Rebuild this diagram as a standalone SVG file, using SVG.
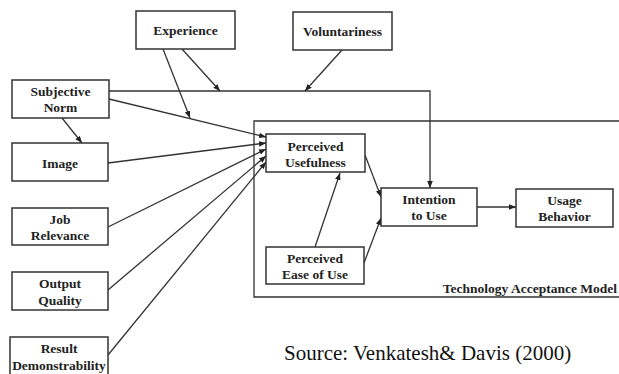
<svg xmlns="http://www.w3.org/2000/svg" width="619" height="374" viewBox="0 0 619 374">
<defs>
<marker id="ah" viewBox="0 0 10 10" refX="10" refY="5" markerWidth="7" markerHeight="7" orient="auto" markerUnits="userSpaceOnUse">
<path d="M0,1 L10,5 L0,9 z" fill="#222"/>
</marker>
<style>
.box{fill:#fff;stroke:#333;stroke-width:1.5}
.lbl{font-family:'Liberation Serif','Times New Roman',Tinos,'DejaVu Serif',serif;font-weight:bold;font-size:13.5px;fill:#222;text-anchor:middle}
.ln{fill:none;stroke:#333;stroke-width:1.3}
.arr{fill:none;stroke:#333;stroke-width:1.3;marker-end:url(#ah)}
.src{font-family:'Liberation Serif','Times New Roman',Tinos,'DejaVu Serif',serif;font-size:21px;fill:#111}
</style>
</defs>
<rect width="619" height="374" fill="#fff"/>
<g id="tam-frame">
<polyline class="ln" points="625,121 254,121 254,297 625,297" stroke-width="1.5"/>
<text class="lbl" x="617" y="293" style="text-anchor:end;font-size:13.5px">Technology Acceptance Model</text>
</g>
<g id="connectors">
<polyline class="arr" points="109,91 430,91 430,188"/>
<line class="arr" x1="163" y1="49" x2="190" y2="118"/>
<line class="arr" x1="182" y1="49" x2="220" y2="91"/>
<line class="arr" x1="342" y1="50" x2="305" y2="91"/>
<line class="arr" x1="62" y1="118" x2="82" y2="143"/>
<line class="arr" x1="109" y1="99" x2="266" y2="137"/>
<line class="arr" x1="108" y1="163" x2="266" y2="143"/>
<line class="arr" x1="108" y1="227" x2="266" y2="149"/>
<line class="arr" x1="108" y1="290" x2="266" y2="156"/>
<line class="arr" x1="108" y1="355" x2="266" y2="162"/>
<line class="arr" x1="315" y1="247" x2="340" y2="173"/>
<line class="arr" x1="365" y1="155" x2="381" y2="197"/>
<line class="arr" x1="364" y1="263" x2="381" y2="218"/>
<line class="arr" x1="477" y1="207" x2="516" y2="207"/>
</g>
<g id="experience"><rect class="box" x="136" y="11" width="99" height="38"/><text class="lbl" x="185.5" y="35">Experience</text></g>
<g id="voluntariness"><rect class="box" x="293" y="12" width="99" height="38"/><text class="lbl" x="342.5" y="36">Voluntariness</text></g>
<g id="subjective-norm"><rect class="box" x="12" y="80" width="97" height="38"/><text class="lbl" x="60.5" y="96">Subjective</text><text class="lbl" x="60.5" y="112">Norm</text></g>
<g id="image"><rect class="box" x="12" y="143" width="96" height="38"/><text class="lbl" x="60" y="168">Image</text></g>
<g id="job-relevance"><rect class="box" x="12" y="208" width="96" height="37"/><text class="lbl" x="60" y="224">Job</text><text class="lbl" x="60" y="240">Relevance</text></g>
<g id="output-quality"><rect class="box" x="12" y="272" width="96" height="38"/><text class="lbl" x="60" y="288">Output</text><text class="lbl" x="60" y="305">Quality</text></g>
<g id="result-demonstrability"><rect class="box" x="10" y="337" width="98" height="40"/><text class="lbl" x="59" y="353">Result</text><text class="lbl" x="59" y="370">Demonstrability</text></g>
<g id="perceived-usefulness"><rect class="box" x="266" y="134" width="99" height="38"/><text class="lbl" x="315.5" y="151">Perceived</text><text class="lbl" x="315.5" y="167">Usefulness</text></g>
<g id="perceived-ease-of-use"><rect class="box" x="266" y="247" width="98" height="37"/><text class="lbl" x="315" y="263">Perceived</text><text class="lbl" x="315" y="279">Ease of Use</text></g>
<g id="intention-to-use"><rect class="box" x="381" y="188" width="96" height="38"/><text class="lbl" x="429" y="204">Intention</text><text class="lbl" x="429" y="220">to Use</text></g>
<g id="usage-behavior"><rect class="box" x="516" y="189" width="97" height="38"/><text class="lbl" x="564.5" y="205">Usage</text><text class="lbl" x="564.5" y="221">Behavior</text></g>
<text class="src" x="284" y="360">Source: Venkatesh&amp; Davis (2000)</text>
</svg>
